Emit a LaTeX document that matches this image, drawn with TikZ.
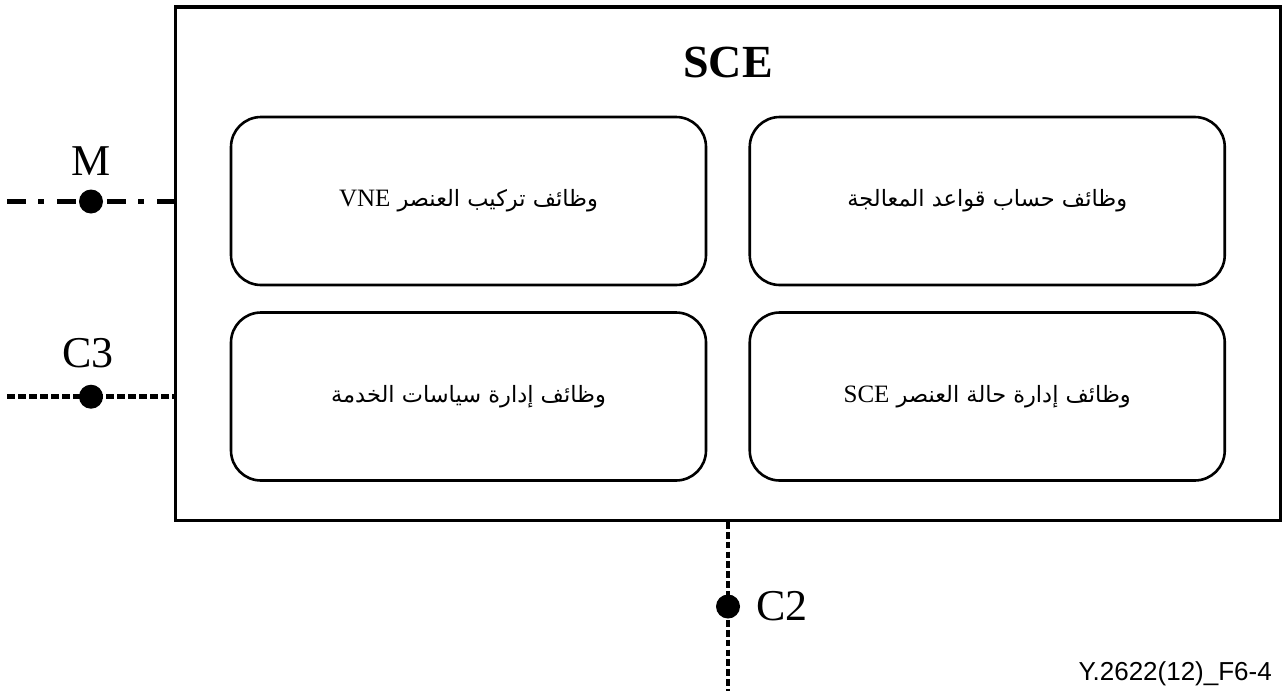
\documentclass[tikz,border=0pt]{standalone}
\usepackage{fontspec}
\setmainfont{Liberation Serif}
\newfontfamily\arabicfont[Script=Arabic]{DejaVu Sans}
\newfontfamily\figfont{Liberation Sans}
\TeXXeTstate=1
\begin{document}
\begin{tikzpicture}[x=1pt,y=-1pt,
  outerbox/.style={draw,line width=3.5pt,minimum width=1105pt,minimum height=513.5pt,inner sep=0pt},
  funcbox/.style={draw,line width=2.6pt,rounded corners=30pt,minimum width=475pt,minimum height=168pt,inner sep=0pt,
    font=\arabicfont\fontsize{22.5}{26}\selectfont},
  latin/.style={},
  iface/.style={line width=4.8pt},
  mline/.style={iface,dash pattern=on 19pt off 12pt on 6pt off 13pt},
  cline/.style={iface,dash pattern=on 7.5pt off 3.5pt},
  vline/.style={iface,dash pattern=on 6.5pt off 3.3pt},
  ifdot/.style={circle,fill,inner sep=0pt,minimum size=24pt},
  iflabel/.style={inner sep=0pt,font=\fontsize{44}{48}\selectfont},
  title/.style={inner sep=0pt,font=\bfseries\fontsize{46}{50}\selectfont}]
\useasboundingbox (0,0) rectangle (1283,691);

% SCE element and its function blocks
\node[outerbox] (sce) at (728,263.75) {};
\node[title,anchor=base] (scetitle) at (728,77) {SCE};

\newcommand\lat[1]{\beginL{\rmfamily\fontsize{25}{28}\selectfont #1}\endL}
\node[funcbox] (vne) at (468.5,201) {\beginR وظائف تركيب العنصر \lat{VNE}\endR};
\node[funcbox] (rules) at (987.25,201) {\beginR وظائف حساب قواعد المعالجة\endR};
\node[funcbox] (policy) at (468.5,396.5) {\beginR وظائف إدارة سياسات الخدمة\endR};
\node[funcbox] (state) at (987.25,396.5) {\beginR وظائف إدارة حالة العنصر \lat{SCE}\endR};

% Reference points M, C3 and C2
\coordinate (mEnd) at (7,201.5);
\coordinate (c3End) at (7,396.7);
\coordinate (c2End) at (728,691);

\draw[mline] (mEnd) -- (mEnd -| sce.west);
\draw[cline] (c3End) -- (c3End -| sce.west);
\draw[vline] (sce.south) -- (c2End);

\node[ifdot] (mDot) at (91,201.5) {};
\node[ifdot] (c3Dot) at (91,396.7) {};
\node[ifdot] (c2Dot) at (728,606.5) {};

\node[iflabel,anchor=base] (mLabel) at (91,175) {M};
\node[iflabel,anchor=base] (c3Label) at (88,367) {C3};
\node[iflabel,anchor=base west] (c2Label) at (756,620) {C2};

\node[inner sep=0pt,anchor=base east,font=\figfont\fontsize{26}{30}\selectfont] (figid) at (1272,680) {Y.2622(12)\_F6-4};
\end{tikzpicture}
\end{document}
